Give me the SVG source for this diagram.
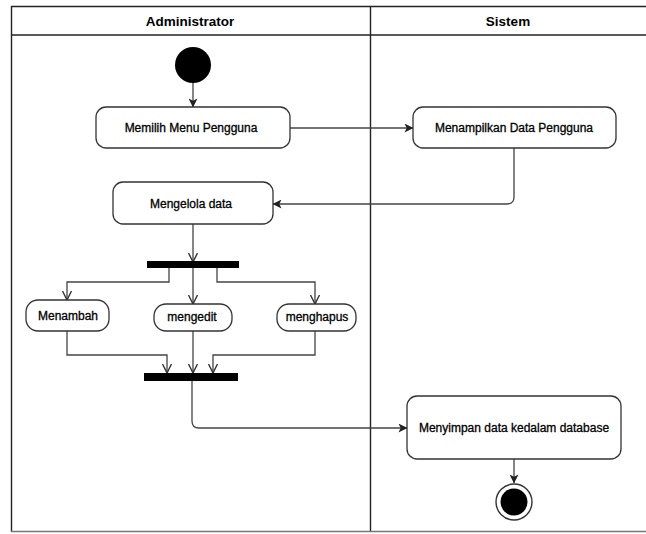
<svg xmlns="http://www.w3.org/2000/svg" width="646" height="534" viewBox="0 0 646 534">
  <style>
    .lane { stroke: #222; stroke-width: 1.4; fill: none; }
    .lane-soft { stroke: #777; stroke-width: 1.4; fill: none; }
    .hdr { font-family: "Liberation Sans", Arial, sans-serif; font-weight: bold; font-size: 13.5px; fill: #000; text-anchor: middle; }
    .act { fill: #fff; stroke: #333; stroke-width: 1.3; }
    .lbl { font-family: "Liberation Sans", Arial, sans-serif; font-size: 12px; fill: #000; stroke: #000; stroke-width: 0.3; text-anchor: middle; dominant-baseline: central; }
    .bar { fill: #000; }
    .edge { fill: none; stroke: #444; stroke-width: 1.3; }
  </style>
  <defs>
    <marker id="arrowFilled" viewBox="0 0 10 10" refX="9.5" refY="5" markerWidth="9" markerHeight="9" markerUnits="userSpaceOnUse" orient="auto">
      <path d="M0,0 L10,5 L0,10 L2.5,5 z" fill="#222"/>
    </marker>
    <marker id="arrowOpen" viewBox="0 0 10 10" refX="9.5" refY="5" markerWidth="10" markerHeight="10" markerUnits="userSpaceOnUse" orient="auto">
      <path d="M0.5,0.5 L9.5,5 L0.5,9.5" fill="none" stroke="#333" stroke-width="1.4"/>
    </marker>
  </defs>

  <rect x="0" y="0" width="646" height="534" fill="#fff"/>

  <!-- swimlane frame -->
  <g id="swimlanes">
    <line class="lane" x1="11" y1="6.5" x2="646" y2="6.5"/>
    <line class="lane" x1="11" y1="35" x2="646" y2="35"/>
    <line class="lane" x1="11.5" y1="6" x2="11.5" y2="532"/>
    <line class="lane" x1="370.5" y1="6" x2="370.5" y2="532"/>
    <line class="lane-soft" x1="11" y1="531.5" x2="646" y2="531.5"/>
    <text class="hdr" x="190" y="26">Administrator</text>
    <text class="hdr" x="508" y="26">Sistem</text>
  </g>

  <!-- connectors -->
  <g id="connectors">
    <path class="edge" d="M193,83 V107" marker-end="url(#arrowFilled)"/>
    <path class="edge" d="M290,128 H413" marker-end="url(#arrowFilled)"/>
    <path class="edge" d="M514,148 V197 Q514,204 507,204 H273" marker-end="url(#arrowFilled)"/>
    <path class="edge" d="M193,224 V262" marker-end="url(#arrowOpen)"/>
    <path class="edge" d="M169,267 V282 H67 V300" marker-end="url(#arrowOpen)"/>
    <path class="edge" d="M193,267 V304" marker-end="url(#arrowOpen)"/>
    <path class="edge" d="M217,267 V282 H315 V304" marker-end="url(#arrowOpen)"/>
    <path class="edge" d="M67,331 V355 H167 V373" marker-end="url(#arrowOpen)"/>
    <path class="edge" d="M193,331 V373" marker-end="url(#arrowOpen)"/>
    <path class="edge" d="M315,331 V355 H213 V373" marker-end="url(#arrowOpen)"/>
    <path class="edge" d="M192,381 V421 Q192,428 199,428 H407" marker-end="url(#arrowFilled)"/>
    <path class="edge" d="M514,459 V483" marker-end="url(#arrowFilled)"/>
  </g>

  <!-- nodes -->
  <g id="start">
    <circle cx="193" cy="65" r="18" fill="#000"/>
  </g>

  <g id="memilih-menu">
    <rect class="act" x="96" y="107" width="194" height="41" rx="10"/>
    <text class="lbl" x="191" y="128">Memilih Menu Pengguna</text>
  </g>

  <g id="menampilkan-data">
    <rect class="act" x="413" y="107" width="203" height="41" rx="10"/>
    <text class="lbl" x="514" y="128">Menampilkan Data Pengguna</text>
  </g>

  <g id="mengelola-data">
    <rect class="act" x="113" y="182" width="160" height="42" rx="10"/>
    <text class="lbl" x="191" y="204">Mengelola data</text>
  </g>

  <g id="fork">
    <rect class="bar" x="147" y="261" width="92" height="7"/>
  </g>

  <g id="menambah">
    <rect class="act" x="26" y="300" width="83" height="31" rx="12"/>
    <text class="lbl" x="68" y="316">Menambah</text>
  </g>

  <g id="mengedit">
    <rect class="act" x="154" y="304" width="78" height="27" rx="12"/>
    <text class="lbl" x="192" y="317">mengedit</text>
  </g>

  <g id="menghapus">
    <rect class="act" x="277" y="304" width="79" height="27" rx="12"/>
    <text class="lbl" x="317" y="317">menghapus</text>
  </g>

  <g id="join">
    <rect class="bar" x="144" y="373" width="94" height="8"/>
  </g>

  <g id="menyimpan-data">
    <rect class="act" x="407" y="396" width="214" height="63" rx="10"/>
    <text class="lbl" x="514" y="428">Menyimpan data kedalam database</text>
  </g>

  <g id="end">
    <circle cx="514" cy="502" r="18" fill="#fff" stroke="#333" stroke-width="1.4"/>
    <circle cx="514" cy="502" r="13.5" fill="#000"/>
  </g>
</svg>
